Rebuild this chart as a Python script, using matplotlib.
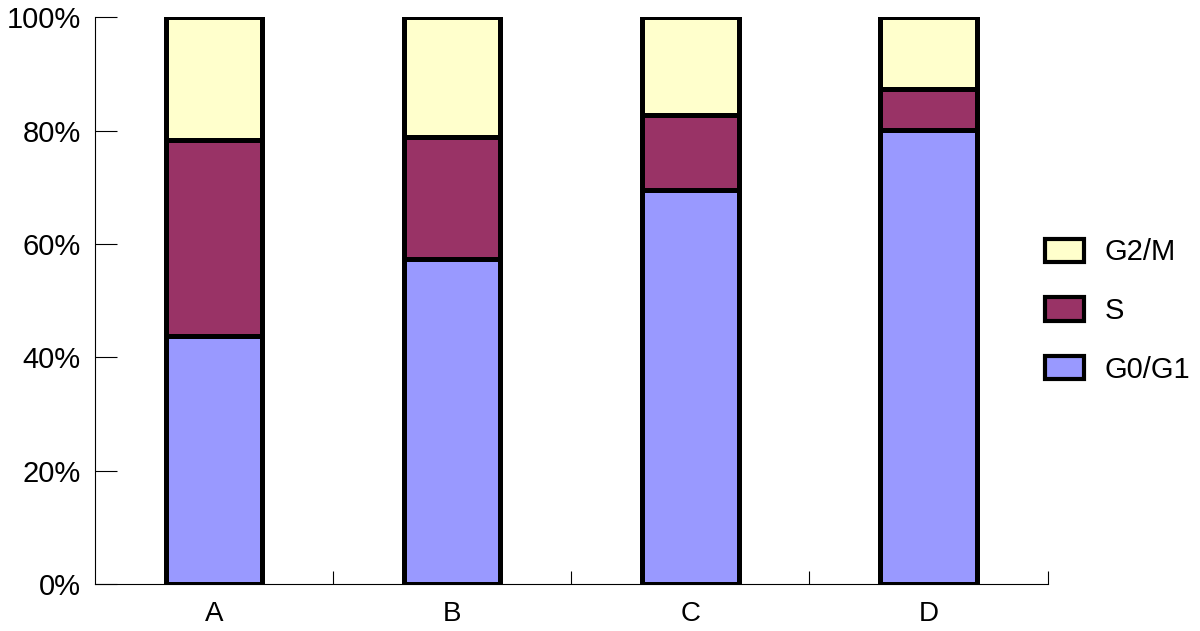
import matplotlib.pyplot as plt
import numpy as np
from matplotlib.patches import Patch
from matplotlib.ticker import FixedLocator

plt.rcParams['font.family'] = ['Liberation Sans', 'DejaVu Sans']

### DATA ###
categories = ["A", "B", "C", "D"]
g0g1 = [43.7, 57.3, 69.6, 80.2]
s_phase = [34.6, 21.5, 13.1, 7.2]
g2m = [21.7, 21.2, 17.3, 12.6]

colors = {
    'G0/G1': '#9999FF',
    'S': '#993366',
    'G2/M': '#FFFFCC',
}
bar_kwargs = {
    'width': 0.405,
    'edgecolor': 'k',
    'linewidth': 3.6,
}

fig = plt.figure(figsize=(12, 6.31), dpi=100)
ax = fig.add_axes([0.079, 0.0745, 0.794, 0.898])

x = np.arange(len(categories))
ax.bar(x, g0g1, color=colors['G0/G1'], **bar_kwargs)
ax.bar(x, s_phase, bottom=g0g1, color=colors['S'], **bar_kwargs)
bottom2 = np.array(g0g1) + np.array(s_phase)
ax.bar(x, g2m, bottom=bottom2, color=colors['G2/M'], **bar_kwargs)

ax.set_xlim(-0.5, 3.5)
ax.set_ylim(0, 100)
ax.set_xticks(x)
ax.set_xticklabels(categories, fontsize=20)
ax.xaxis.set_minor_locator(FixedLocator([0.5, 1.5, 2.5, 3.5]))
ax.tick_params(axis='x', which='major', length=0, pad=12)
ax.tick_params(axis='x', which='minor', direction='in', length=9.5, width=0.8)

ax.set_yticks([0, 20, 40, 60, 80, 100])
ax.set_yticklabels(["0%", "20%", "40%", "60%", "80%", "100%"], fontsize=21)
ax.tick_params(axis='y', direction='in', length=16, width=0.8, pad=10)

for side in ['top', 'right']:
    ax.spines[side].set_visible(False)
for side in ['left', 'bottom']:
    ax.spines[side].set_linewidth(0.8)

handles = [
    Patch(facecolor=colors['G2/M'], edgecolor='k', linewidth=3),
    Patch(facecolor=colors['S'], edgecolor='k', linewidth=3),
    Patch(facecolor=colors['G0/G1'], edgecolor='k', linewidth=3),
]
fig.legend(handles, ["G2/M", "S", "G0/G1"], loc='center left',
           bbox_to_anchor=(0.849, 0.507), frameon=False, fontsize=21,
           handlelength=1.35, handleheight=0.85, labelspacing=1.05,
           handletextpad=0.7)

fig.savefig("out.png", dpi=100)
